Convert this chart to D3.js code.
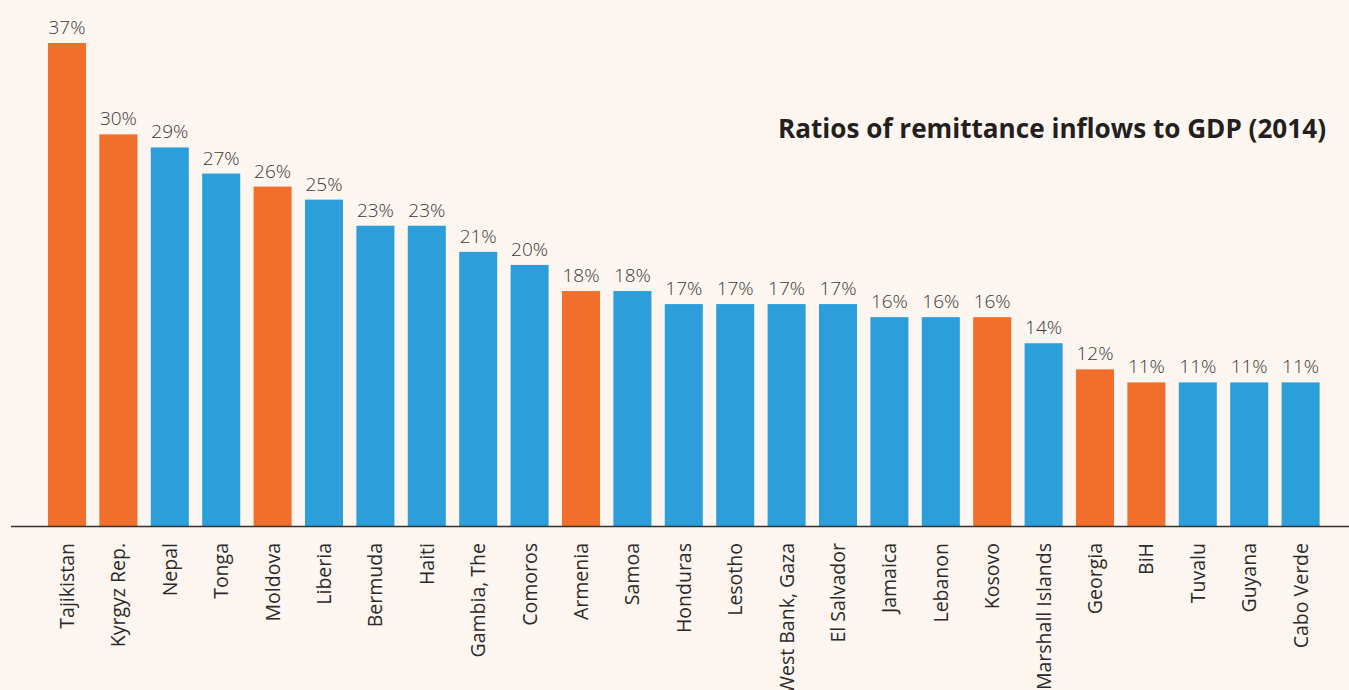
<!DOCTYPE html>
<html><head><meta charset="utf-8">
<script src="https://cdn.jsdelivr.net/npm/d3@7"></script>
<style>
html,body{margin:0;padding:0;background:#fdf5ef;}
svg{display:block;}
</style></head>
<body>
<svg id="chart" width="1349" height="690"></svg>
<script>
const categories = ["Tajikistan","Kyrgyz Rep.","Nepal","Tonga","Moldova","Liberia","Bermuda","Haiti","Gambia, The","Comoros","Armenia","Samoa","Honduras","Lesotho","West Bank, Gaza","El Salvador","Jamaica","Lebanon","Kosovo","Marshall Islands","Georgia","BiH","Tuvalu","Guyana","Cabo Verde"];
const values = [37,30,29,27,26,25,23,23,21,20,18,18,17,17,17,17,16,16,16,14,12,11,11,11,11];
const highlighted = ["Tajikistan","Kyrgyz Rep.","Moldova","Armenia","Kosovo","Georgia","BiH"];
const title = "Ratios of remittance inflows to GDP (2014)";

const svg = d3.select("#chart");
const W = 1349, H = 690;
svg.append("rect").attr("width",W).attr("height",H).attr("fill","#fdf5ef");

const baseY = 526;
const x = d3.scaleBand().domain(categories).range([41.3, 1326.3]).paddingInner(0.26).paddingOuter(0.13);
const y = d3.scaleLinear().domain([0, 37]).range([baseY, 43]);

const data = categories.map((c,i)=>({c, v: values[i], hi: highlighted.includes(c)}));

svg.append("g").selectAll("rect").data(data).join("rect")
  .attr("x", d=>x(d.c)).attr("width", x.bandwidth())
  .attr("y", d=>y(d.v)).attr("height", d=>y(0)-y(d.v))
  .attr("fill", d=>d.hi ? "#f26f2b" : "#2c9fdb");

svg.append("g").selectAll("text").data(data).join("text")
  .attr("x", d=>x(d.c)+x.bandwidth()/2).attr("y", d=>y(d.v)-9)
  .attr("text-anchor","middle")
  .attr("font-family","Open Sans, sans-serif").attr("font-weight",300).attr("font-size",19)
  .attr("fill","#3a3a3a")
  .text(d=>d.v+"%");

// axis
const axis = d3.axisBottom(x).tickSize(0).tickPadding(0);
const gx = svg.append("g").attr("transform",`translate(0,${baseY})`).call(axis);
gx.select(".domain").remove();
svg.append("line").attr("x1",11).attr("x2",W).attr("y1",baseY+0.5).attr("y2",baseY+0.5)
  .attr("stroke","#333").attr("stroke-width",1.5);
gx.selectAll(".tick text")
  .attr("font-family","Open Sans, sans-serif").attr("font-weight",400).attr("font-size",19.5)
  .attr("fill","#2a2a2a")
  .attr("text-anchor","end")
  .attr("dy","0.36em")
  .attr("transform","translate(0,17) rotate(-90)")
  .attr("x",0).attr("y",0);

svg.append("text").attr("x",1326).attr("y",138)
  .attr("text-anchor","end")
  .attr("font-family","Open Sans, sans-serif").attr("font-weight",700)
  .attr("font-size",26).attr("fill","#231f20")
  .attr("textLength",548).attr("lengthAdjust","spacingAndGlyphs")
  .text(title);
</script>
</body></html>
